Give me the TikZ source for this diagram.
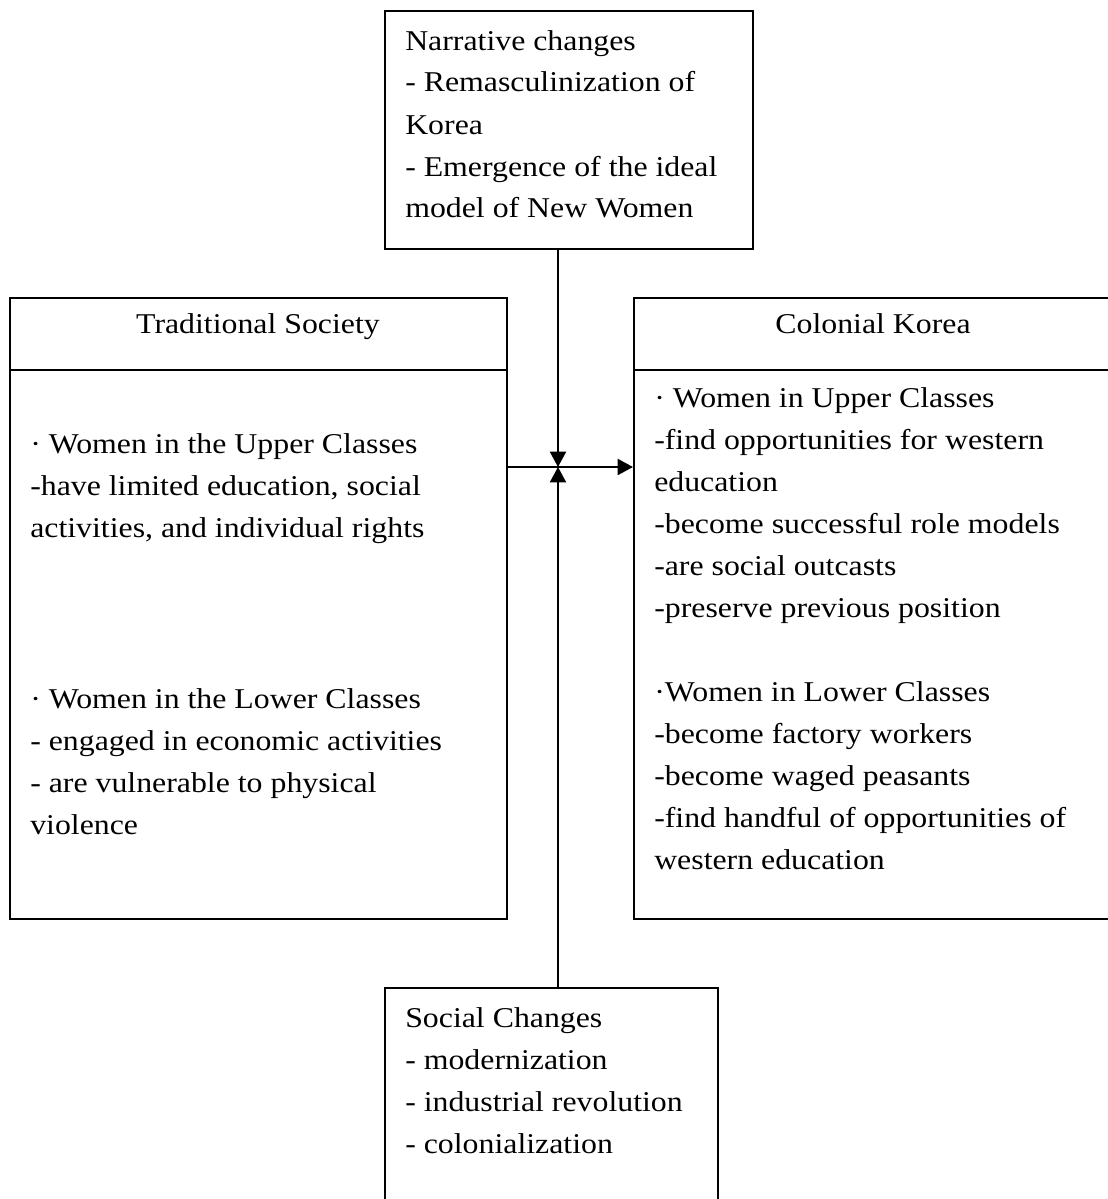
\documentclass[tikz,border=0pt]{standalone}
\usepackage{fontspec}
\setmainfont{Liberation Serif}[FakeStretch=1.11]
\usetikzlibrary{positioning}
\usetikzlibrary{arrows.meta}

\newcommand{\bodyfont}{\fontsize{21.5pt}{31.5pt}\selectfont}
\newcommand{\lines}[1]{\begin{tabular}[t]{@{}l@{}}#1\end{tabular}}
\def\px{0.75pt}

\begin{document}
\begin{tikzpicture}[x=\px, y=-\px,
  box/.style={draw, line width=1.3pt, inner sep=0pt, anchor=north west},
  txt/.style={anchor=base west, inner sep=0pt, font=\bodyfont},
  title/.style={anchor=base, inner sep=0pt, font=\bodyfont},
  link/.style={line width=1.5pt, -{Triangle[length=11.5pt, width=12pt]}}]

\useasboundingbox (0,0) rectangle (1107,1199);

%---------------------------------------
% Boxes
%---------------------------------------
\node[box, minimum width={368*\px}, minimum height={238*\px}] (narr) at (384,10) {};

\node[box, minimum width={497*\px}, minimum height={72*\px}]  (tradhead) at (9,297) {};
\node[box, minimum width={497*\px}, minimum height={549*\px}] (tradbody) at (9,369) {};

\node[box, minimum width={480*\px}, minimum height={72*\px}]  (colohead) at (633,297) {};
\node[box, minimum width={480*\px}, minimum height={549*\px}] (colobody) at (633,369) {};

\node[box, minimum width={333*\px}, minimum height={240*\px}] (soc) at (384,987) {};

%---------------------------------------
% Texts
%---------------------------------------
\node[txt] (narrtext) at (405,50) {\lines{Narrative changes\\
  - Remasculinization of\\ Korea\\
  - Emergence of the ideal\\ model of New Women}};

\node[title] (tradtitle) at (258,333) {Traditional Society};
\node[title] (colotitle) at (873,333) {Colonial Korea};

% Traditional society
\node[txt] (tradupper) at (30,453) {\lines{· Women in the Upper Classes\\
  -have limited education, social\\ activities, and individual rights}};
\node[txt] (tradlower) at (30,708) {\lines{· Women in the Lower Classes\\
  - engaged in economic activities\\ - are vulnerable to physical\\ violence}};

% Colonial Korea
\node[txt] (coloupper) at (654,407) {\lines{· Women in Upper Classes\\
  -find opportunities for western\\ education\\
  -become successful role models\\ -are social outcasts\\
  -preserve previous position}};
\node[txt] (cololower) at (654,701) {\lines{·Women in Lower Classes\\
  -become factory workers\\ -become waged peasants\\
  -find handful of opportunities of\\ western education}};

\node[txt] (soctext) at (405,1027) {\lines{Social Changes\\
  - modernization\\ - industrial revolution\\ - colonialization}};

%---------------------------------------
% Connectors
%---------------------------------------
\coordinate (hub) at (558,467);
\draw[link] (narr.south -| hub) -- (hub);
\draw[link] (soc.north -| hub) -- (hub);
\draw[link] (tradbody.east |- hub) -- (colobody.west |- hub);

\end{tikzpicture}
\end{document}
